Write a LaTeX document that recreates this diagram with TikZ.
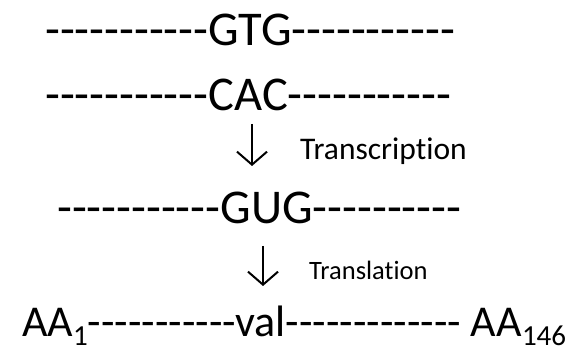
\documentclass[tikz,border=0pt]{standalone}
\usepackage{fontspec}
\setmainfont{Carlito}[Ligatures={TeXOff,CommonOff}]
\usetikzlibrary{arrows.meta}
\newcommand{\sbs}[1]{\raisebox{-0.2em}{\fontsize{0.66em}{0.66em}\selectfont #1}}
\tikzset{
  seq/.style={anchor=base west, inner sep=0pt, font=\fontsize{48.5}{48.5}\selectfont},
  lbl/.style={anchor=base west, inner sep=0pt},
  flow/.style={line width=2pt, -{Straight Barb[length=13pt,width=30pt,line width=2pt]}}
}
\begin{document}
\begin{tikzpicture}[x=1pt,y=-1pt]
\useasboundingbox (0,0) rectangle (573,352);
\node[seq] (dna1) at (45,46) {-----------GTG-----------};
\node[seq] (dna2) at (45,111) {-----------CAC-----------};
\coordinate (a1s) at (252,124);
\coordinate (a1e) at (252,166);
\draw[flow] (a1s) -- (a1e);
\node[lbl, font=\fontsize{31.5}{31.5}\selectfont] (tc) at (300,160) {Transcription};
\node[seq] (rna) at (57,224) {-----------GUG----------};
\coordinate (a2s) at (263,246);
\coordinate (a2e) at (263,286);
\draw[flow] (a2s) -- (a2e);
\node[lbl, font=\fontsize{26.5}{26.5}\selectfont] (tl) at (309,280) {Translation};
\node[seq, font=\fontsize{44}{44}\selectfont] (prot) at (22,337) {AA\sbs{1}-----------val------------- AA\sbs{146}};
\end{tikzpicture}
\end{document}
